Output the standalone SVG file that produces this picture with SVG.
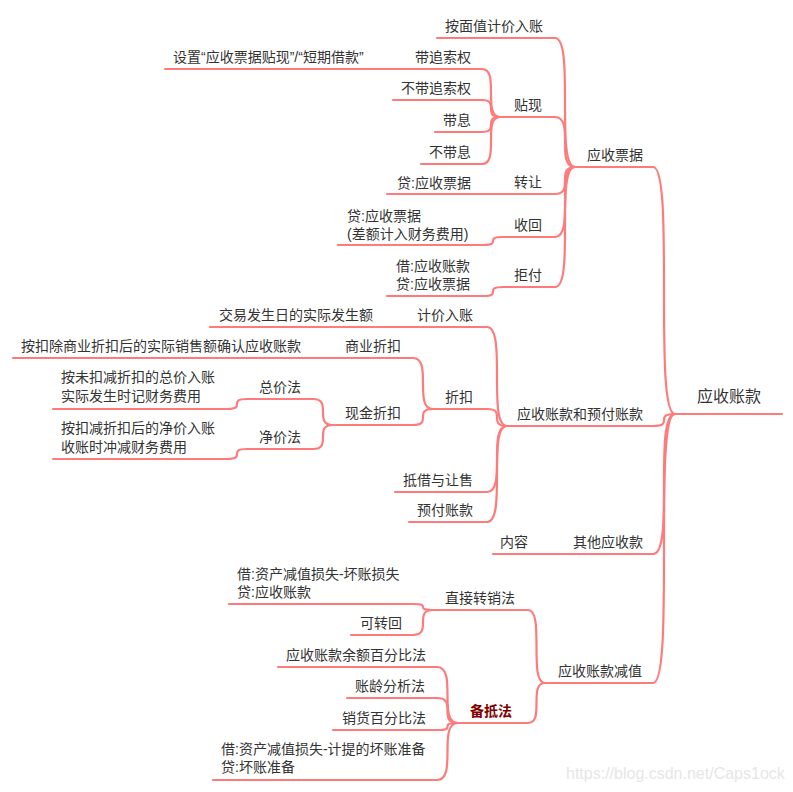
<svg xmlns="http://www.w3.org/2000/svg" width="793" height="792" viewBox="0 0 793 792">
<style>
.t{font-family:"Liberation Sans","Noto Sans CJK SC",sans-serif;font-size:14px;fill:#333333}
.r{font-size:16px}
.b{font-weight:bold;fill:#800000}
.u,.c{stroke:#FF7B7B;stroke-width:2.2;fill:none;stroke-linecap:round}
.w{font-family:"Liberation Sans",sans-serif;font-size:16px;fill:#e6e6e6}
</style>
<rect width="793" height="792" fill="#ffffff"/>
<g id="connectors">
<path class="c" d="M653,167 C675,167 653,414 675,414"/>
<path class="c" d="M653,426 C675,426 653,414 675,414"/>
<path class="c" d="M653,554 C675,554 653,414 675,414"/>
<path class="c" d="M653,683 C675,683 653,414 675,414"/>
<path class="c" d="M555,38 C575,38 555,167 575,167"/>
<path class="c" d="M555,117 C575,117 555,167 575,167"/>
<path class="c" d="M555,194 C575,194 555,167 575,167"/>
<path class="c" d="M555,237 C575,237 555,167 575,167"/>
<path class="c" d="M555,287 C575,287 555,167 575,167"/>
<path class="c" d="M482,69 C500,69 482,117 500,117"/>
<path class="c" d="M385,69 L405,69"/>
<path class="c" d="M482,100 C500,100 482,117 500,117"/>
<path class="c" d="M482,132 C500,132 482,117 500,117"/>
<path class="c" d="M482,164 C500,164 482,117 500,117"/>
<path class="c" d="M483,194 L503,194"/>
<path class="c" d="M483,245 C503,245 483,237 503,237"/>
<path class="c" d="M483,296 C503,296 483,287 503,287"/>
<path class="c" d="M487,327 C507,327 487,426 507,426"/>
<path class="c" d="M385,327 L405,327"/>
<path class="c" d="M487,409 C507,409 487,426 507,426"/>
<path class="c" d="M487,492 C507,492 487,426 507,426"/>
<path class="c" d="M487,522 C507,522 487,426 507,426"/>
<path class="c" d="M413,358 C433,358 413,409 433,409"/>
<path class="c" d="M313,358 L333,358"/>
<path class="c" d="M413,425 C433,425 413,409 433,409"/>
<path class="c" d="M313,399 C333,399 313,425 333,425"/>
<path class="c" d="M313,449 C333,449 313,425 333,425"/>
<path class="c" d="M227,409 C247,409 227,399 247,399"/>
<path class="c" d="M227,459 C247,459 227,449 247,449"/>
<path class="c" d="M528,554 L540,554"/>
<path class="c" d="M528,610 C545,610 528,683 545,683"/>
<path class="c" d="M528,723 C545,723 528,683 545,683"/>
<path class="c" d="M413,604 C433,604 413,610 433,610"/>
<path class="c" d="M413,635 C433,635 413,610 433,610"/>
<path class="c" d="M437,667 C458,667 437,723 458,723"/>
<path class="c" d="M437,698 C458,698 437,723 458,723"/>
<path class="c" d="M437,730 C458,730 437,723 458,723"/>
<path class="c" d="M437,780 C458,780 437,723 458,723"/>
</g>
<g id="root"><text class="t r" x="697" y="402">应收账款</text><path class="u" d="M675,414 H782"/></g>
<g id="n-yspj"><text class="t" x="587" y="160">应收票据</text><path class="u" d="M575,167 H653"/></g>
<g id="n-ysyf"><text class="t" x="517" y="419">应收账款和预付账款</text><path class="u" d="M507,426 H653"/></g>
<g id="n-qtys"><text class="t" x="573" y="547">其他应收款</text><path class="u" d="M540,554 H653"/></g>
<g id="n-jz"><text class="t" x="558" y="676">应收账款减值</text><path class="u" d="M545,683 H653"/></g>
<g id="n-mzj"><text class="t" x="445" y="31">按面值计价入账</text><path class="u" d="M437,38 H555"/></g>
<g id="n-tx"><text class="t" x="514" y="110">贴现</text><path class="u" d="M500,117 H555"/></g>
<g id="n-zr"><text class="t" x="514" y="187">转让</text><path class="u" d="M503,194 H555"/></g>
<g id="n-sh"><text class="t" x="514" y="230">收回</text><path class="u" d="M503,237 H555"/></g>
<g id="n-jf"><text class="t" x="514" y="280">拒付</text><path class="u" d="M503,287 H555"/></g>
<g id="n-dzs"><text class="t" x="415" y="62">带追索权</text><path class="u" d="M405,69 H482"/></g>
<g id="n-sz"><text class="t" x="173" y="62">设置“应收票据贴现”/“短期借款”</text><path class="u" d="M165,69 H385"/></g>
<g id="n-bdzs"><text class="t" x="401" y="93">不带追索权</text><path class="u" d="M393,100 H482"/></g>
<g id="n-dx"><text class="t" x="443" y="125">带息</text><path class="u" d="M435,132 H482"/></g>
<g id="n-bdx"><text class="t" x="429" y="157">不带息</text><path class="u" d="M421,164 H482"/></g>
<g id="n-zr-c"><text class="t" x="397" y="188">贷:应收票据</text><path class="u" d="M387,194 H483"/></g>
<g id="n-sh-c"><text class="t" x="347" y="221">贷:应收票据</text><text class="t" x="347" y="239">(差额计入财务费用)</text><path class="u" d="M338,245 H483"/></g>
<g id="n-jf-c"><text class="t" x="396" y="271">借:应收账款</text><text class="t" x="396" y="289">贷:应收票据</text><path class="u" d="M387,296 H483"/></g>
<g id="n-jjrz"><text class="t" x="417" y="320">计价入账</text><path class="u" d="M405,327 H487"/></g>
<g id="n-jyfs"><text class="t" x="219" y="320">交易发生日的实际发生额</text><path class="u" d="M210,327 H385"/></g>
<g id="n-zk"><text class="t" x="445" y="402">折扣</text><path class="u" d="M433,409 H487"/></g>
<g id="n-djrs"><text class="t" x="403" y="485">抵借与让售</text><path class="u" d="M395,492 H487"/></g>
<g id="n-yfzk"><text class="t" x="417" y="515">预付账款</text><path class="u" d="M409,522 H487"/></g>
<g id="n-syzk"><text class="t" x="345" y="351">商业折扣</text><path class="u" d="M333,358 H413"/></g>
<g id="n-syzk-c"><text class="t" x="21" y="351">按扣除商业折扣后的实际销售额确认应收账款</text><path class="u" d="M13,358 H313"/></g>
<g id="n-xjzk"><text class="t" x="345" y="418">现金折扣</text><path class="u" d="M333,425 H413"/></g>
<g id="n-zjf"><text class="t" x="259" y="392">总价法</text><path class="u" d="M247,399 H313"/></g>
<g id="n-zjf-c"><text class="t" x="61" y="382">按未扣减折扣的总价入账</text><text class="t" x="61" y="401">实际发生时记财务费用</text><path class="u" d="M53,409 H227"/></g>
<g id="n-jjf"><text class="t" x="259" y="442">净价法</text><path class="u" d="M247,449 H313"/></g>
<g id="n-jjf-c"><text class="t" x="61" y="433">按扣减折扣后的净价入账</text><text class="t" x="61" y="452">收账时冲减财务费用</text><path class="u" d="M53,459 H227"/></g>
<g id="n-nr"><text class="t" x="500" y="547">内容</text><path class="u" d="M493,554 H528"/></g>
<g id="n-zjzx"><text class="t" x="445" y="603">直接转销法</text><path class="u" d="M433,610 H528"/></g>
<g id="n-bdf"><text class="t b" x="470" y="716">备抵法</text><path class="u" d="M458,723 H528"/></g>
<g id="n-zjzx-c"><text class="t" x="237" y="579">借:资产减值损失-坏账损失</text><text class="t" x="237" y="597">贷:应收账款</text><path class="u" d="M229,604 H413"/></g>
<g id="n-kzh"><text class="t" x="360" y="628">可转回</text><path class="u" d="M351,635 H413"/></g>
<g id="n-ye"><text class="t" x="286" y="660">应收账款余额百分比法</text><path class="u" d="M278,667 H437"/></g>
<g id="n-zl"><text class="t" x="355" y="691">账龄分析法</text><path class="u" d="M347,698 H437"/></g>
<g id="n-xh"><text class="t" x="342" y="723">销货百分比法</text><path class="u" d="M333,730 H437"/></g>
<g id="n-bdf-c"><text class="t" x="221" y="754">借:资产减值损失-计提的坏账准备</text><text class="t" x="221" y="772">贷:坏账准备</text><path class="u" d="M213,780 H437"/></g>
<text class="w" x="566" y="779">https://blog.csdn.net/Caps1ock</text>
</svg>
